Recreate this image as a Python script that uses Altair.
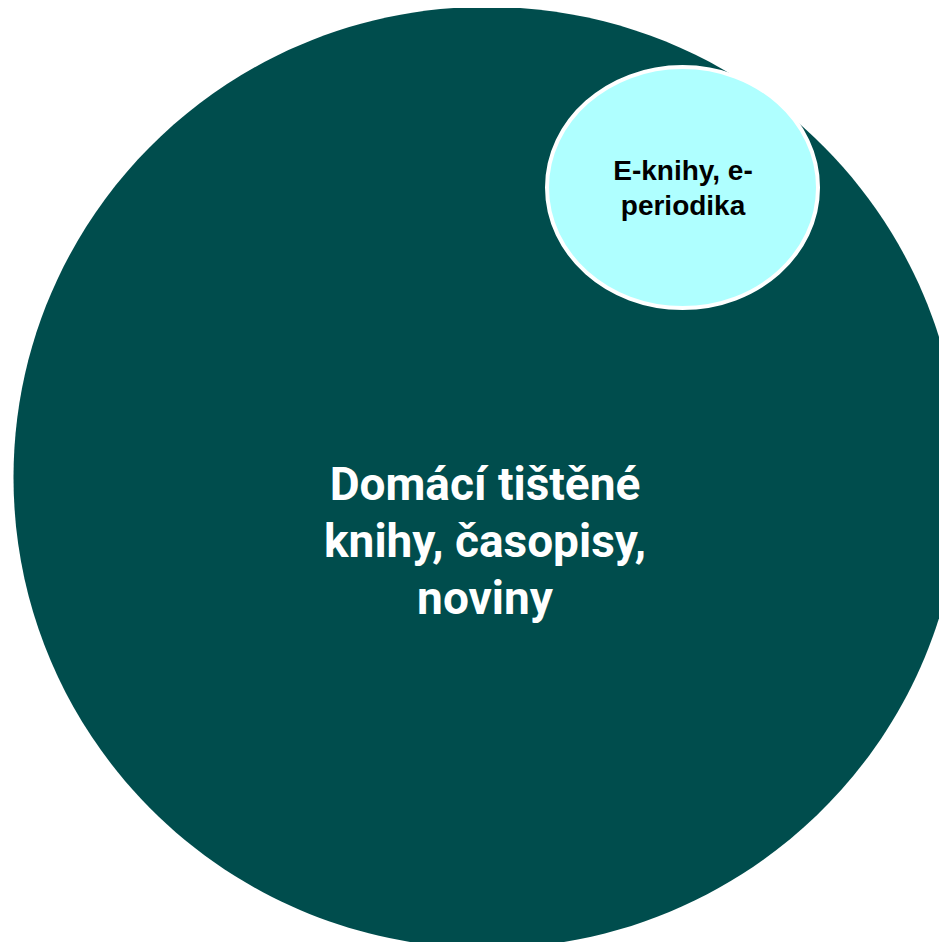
import altair as alt
import pandas as pd

# Bubble categories and their relative sizes (largest = 100)
categories = ["Domácí tištěné knihy, časopisy, noviny", "E-knihy, e-periodika"]
labels = ["Domácí tištěné\nknihy, časopisy,\nnoviny", "E-knihy, e-\nperiodika"]
values = [100.0, 8.19]
# bubble centres in a 0-100 layout space
x_pos = [51.45, 72.45]
y_pos = [49.73, 80.78]

df = pd.DataFrame({"category": categories, "label": labels, "value": values,
                   "x": x_pos, "y": y_pos})

big_path = "M-1,0A1,0.994,0,1,1,1,0A1,0.994,0,1,1,-1,0Z"
small_path = "M-1,0A1,0.889,0,1,1,1,0A1,0.889,0,1,1,-1,0Z"

base = alt.Chart(df).encode(
    x=alt.X("x:Q", scale=alt.Scale(domain=[0, 100], nice=False, zero=False), axis=None),
    y=alt.Y("y:Q", scale=alt.Scale(domain=[0, 100], nice=False, zero=False), axis=None),
)

bubbles = base.mark_point(filled=True, opacity=1, stroke="white").encode(
    size=alt.Size("value:Q", scale=alt.Scale(domain=[0, 100], range=[0, 896809]), legend=None),
    shape=alt.Shape("category:N", scale=alt.Scale(domain=categories, range=[big_path, small_path]), legend=None),
    fill=alt.Fill("category:N", scale=alt.Scale(domain=categories, range=["#004D4D", "#AFFFFF"]), legend=None),
    strokeWidth=alt.condition(alt.datum.category == categories[1], alt.value(4), alt.value(0)),
)

big_text = base.transform_filter(alt.datum.category == categories[0]).mark_text(
    font="Roboto", fontWeight="bold", fontSize=46, lineHeight=57,
    color="white", dx=-2, dy=8, align="center", baseline="middle", lineBreak="\n"
).encode(text="label:N")

small_text = base.transform_filter(alt.datum.category == categories[1]).mark_text(
    font="Liberation Sans", fontWeight="bold", fontSize=28, lineHeight=35,
    color="black", dx=0.5, dy=-15.5, align="center", baseline="middle", lineBreak="\n"
).encode(text="label:N")

chart = alt.layer(bubbles, big_text, small_text).properties(
    width=931, height=934, padding=0, autosize="none", background="white"
).configure_view(stroke=None)

chart.save("out.html", embed_options={"renderer": "svg", "actions": False})
